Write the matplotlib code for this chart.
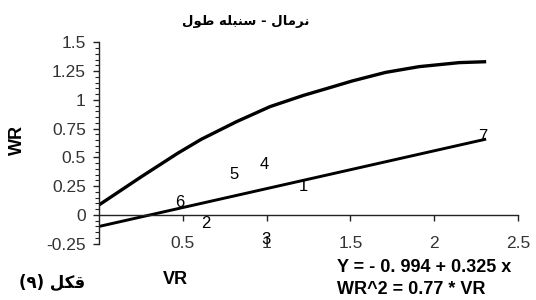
import matplotlib
matplotlib.use('Agg')
import matplotlib.pyplot as plt
import numpy as np

plt.rcParams['font.family'] = ['Liberation Sans', 'DejaVu Sans']

# داده ها (خوانده شده از تصویر)
# منحنی حد (سهمی)
curve_x = [0.0, 0.25, 0.47, 0.61, 0.82, 1.02, 1.22, 1.36, 1.51, 1.71, 1.91, 2.15, 2.31]
curve_y = [0.087, 0.33, 0.537, 0.658, 0.811, 0.942, 1.04, 1.10, 1.165, 1.24, 1.29, 1.325, 1.333]

# خط رگرسیون
reg_x = [0.0, 2.31]
reg_y = [-0.10, 0.66]

# والدها (شماره ها)
point_labels = ['1', '2', '3', '4', '5', '6', '7']
point_x = [1.22, 0.635, 0.996, 0.986, 0.808, 0.48, 2.29]
point_y = [0.246, -0.072, -0.217, 0.435, 0.348, 0.107, 0.68]

x_ticks = [0.5, 1.0, 1.5, 2.0, 2.5]
x_ticklabels = ['0.5', '1', '1.5', '2', '2.5']
y_ticks = [-0.25, 0, 0.25, 0.5, 0.75, 1.0, 1.25, 1.5]
y_ticklabels = ['-0.25', '0', '0.25', '0.5', '0.75', '1', '1.25', '1.5']

# متن ها (حروف نمایشی، به ترتیب دیداری چپ به راست)
title_txt = '\uFEDD\uFEEE\uFEC3 \uFEEA\uFEE0\uFE92\uFEE8\uFEB3 - \uFEDD\uFE8E\uFEE3\uFEAE\uFEE7'
fig_txt = '(\u06F9) \uFEDE\uFB91\uFED7'
eq1 = 'Y = - 0. 994 + 0.325 x'
eq2 = 'WR^2 = 0.77 * VR'

fig = plt.figure(figsize=(5.36, 3.0), dpi=100)
ax = fig.add_axes([99 / 536, 1 - 243.7 / 300, 419 / 536, 201.2 / 300])

ax.plot(curve_x, curve_y, color='black', lw=2.4, solid_capstyle='butt')
ax.plot(reg_x, reg_y, color='black', lw=2.1, solid_capstyle='butt')
for lab, px, py in zip(point_labels, point_x, point_y):
    ax.text(px, py, lab, ha='center', va='center', fontsize=12, color='black')

ax.set_xlim(0, 2.5)
ax.set_ylim(-0.25, 1.5)

# محورها
ax.spines['top'].set_visible(False)
ax.spines['right'].set_visible(False)
ax.spines['bottom'].set_position(('data', 0))
for s in ['left', 'bottom']:
    ax.spines[s].set_color('#222222')
    ax.spines[s].set_linewidth(1.0)

ax.set_xticks(x_ticks)
ax.set_xticklabels(x_ticklabels)
ax.set_yticks(y_ticks)
ax.set_yticklabels(y_ticklabels)
ax.set_yticks(np.arange(-0.25, 1.5001, 0.05), minor=True)

ax.tick_params(axis='x', direction='out', length=4.3, width=1.0, pad=10.8,
               labelsize=12.5, labelcolor='#333333', color='#222222')
ax.tick_params(axis='y', which='major', direction='out', length=4.5, width=1.0, pad=5,
               labelsize=12.5, labelcolor='#333333', color='#222222')
ax.tick_params(axis='y', which='minor', direction='out', length=3, width=0.8, color='#222222')

# عنوان و برچسب ها
fig.text(246 / 536, 1 - 22 / 300, title_txt, ha='center', va='center',
         fontsize=9.5, fontweight='bold', family=['DejaVu Sans'])
fig.text(17 / 536, 1 - 140 / 300, 'WR', rotation=90, ha='center', va='center',
         fontsize=13, fontweight='bold')
fig.text(175 / 536, 1 - 279 / 300, 'VR', ha='center', va='center',
         fontsize=13, fontweight='bold')
fig.text(52 / 536, 1 - 283 / 300, fig_txt, ha='center', va='center',
         fontsize=12, fontweight='bold', family=['DejaVu Sans'])
fig.text(337 / 536, 1 - 268 / 300, eq1, ha='left', va='center',
         fontsize=13, fontweight='bold')
fig.text(337 / 536, 1 - 290 / 300, eq2, ha='left', va='center',
         fontsize=13, fontweight='bold')

fig.savefig('out.png', dpi=100)
